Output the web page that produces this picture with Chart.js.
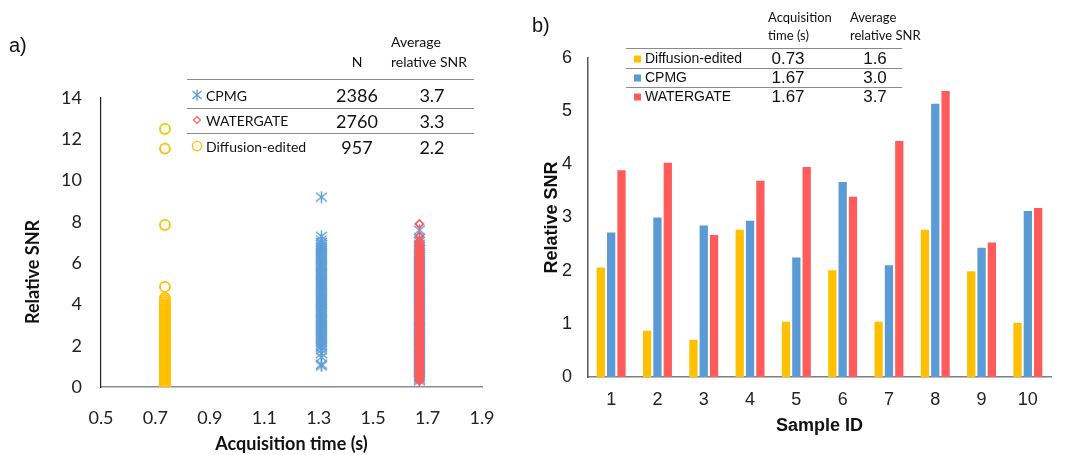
<!DOCTYPE html>
<html>
<head>
<meta charset="utf-8">
<script src="https://cdn.jsdelivr.net/npm/chart.js@4.4.1/dist/chart.umd.min.js"></script>
<style>
  html, body { margin: 0; padding: 0; background: #fff; }
  #wrap { position: relative; width: 1066px; height: 455px; overflow: hidden; }
  canvas { position: absolute; top: 0; }
  .t { position: absolute; white-space: nowrap; color: #111; }
  .c { transform: translate(-50%, -50%); }
  .l { transform: translate(0, -50%); }
  .hl { position: absolute; height: 0; border-top: 1.5px solid #8a8a8a; }
  .lato { font-family: Lato, "Open Sans", sans-serif; }
  .arial { font-family: "Liberation Sans", Arial, sans-serif; }
  .sw { position: absolute; width: 7px; height: 7px; transform: translate(0, -50%); }
</style>
</head>
<body>
<div id="wrap">
  <canvas id="left" width="500" height="455" style="left:0"></canvas>
  <canvas id="right" width="546" height="455" style="left:520px"></canvas>

  <!-- panel a labels / table -->
  <div class="t arial l" style="left:9px;top:45px;font-size:20px;">a)</div>
  <div class="t lato c" style="left:32px;top:272px;font-size:18px;font-weight:bold;transform:translate(-50%,-50%) rotate(-90deg);">Relative SNR</div>

  <div class="t lato c" style="left:357px;top:61px;font-size:14px;">N</div>
  <div class="t lato l" style="left:391px;top:41px;font-size:14px;">Average</div>
  <div class="t lato l" style="left:391px;top:61px;font-size:14px;">relative SNR</div>
  <div class="hl" style="left:187px;width:287px;top:79px;"></div>
  <div class="hl" style="left:187px;width:287px;top:108px;"></div>
  <div class="hl" style="left:187px;width:287px;top:133px;"></div>
  <svg style="position:absolute;left:191px;top:89px" width="12" height="12"><g stroke="#5B9BD5" stroke-width="1.3"><line x1="6" y1="0.5" x2="6" y2="11.5"/><line x1="1.5" y1="2" x2="10.5" y2="10"/><line x1="10.5" y1="2" x2="1.5" y2="10"/></g></svg>
  <svg style="position:absolute;left:192px;top:115px" width="10" height="10"><polygon points="5,1.5 8.5,5 5,8.5 1.5,5" fill="none" stroke="#FF5B5B" stroke-width="1.2"/></svg>
  <svg style="position:absolute;left:191px;top:140px" width="12" height="12"><circle cx="6" cy="6" r="4.6" fill="none" stroke="#FFC000" stroke-width="1.4"/></svg>
  <div class="t lato l" style="left:206px;top:95px;font-size:14px;">CPMG</div>
  <div class="t lato l" style="left:206px;top:120px;font-size:14px;">WATERGATE</div>
  <div class="t lato l" style="left:206px;top:146px;font-size:14px;">Diffusion-edited</div>
  <div class="t lato c" style="left:357px;top:95px;font-size:18px;">2386</div>
  <div class="t lato c" style="left:357px;top:121px;font-size:18px;">2760</div>
  <div class="t lato c" style="left:357px;top:147px;font-size:18px;">957</div>
  <div class="t lato c" style="left:432px;top:95px;font-size:18px;">3.7</div>
  <div class="t lato c" style="left:432px;top:121px;font-size:18px;">3.3</div>
  <div class="t lato c" style="left:432px;top:147px;font-size:18px;">2.2</div>

  <!-- panel b labels / table -->
  <div class="t arial l" style="left:532px;top:25px;font-size:20px;">b)</div>
  <div class="t lato l" style="left:768px;top:17px;font-size:13px;">Acquisition</div>
  <div class="t lato l" style="left:768px;top:35px;font-size:13px;">time (s)</div>
  <div class="t lato l" style="left:850px;top:17px;font-size:13px;">Average</div>
  <div class="t lato l" style="left:850px;top:35px;font-size:13px;">relative SNR</div>
  <div class="hl" style="left:626px;width:276px;top:48px;"></div>
  <div class="hl" style="left:626px;width:276px;top:68px;"></div>
  <div class="hl" style="left:626px;width:276px;top:87px;"></div>
  <div class="sw" style="left:634px;top:59px;background:#FFC000;"></div>
  <div class="sw" style="left:634px;top:78px;background:#5B9BD5;"></div>
  <div class="sw" style="left:634px;top:97px;background:#FF5B5B;"></div>
  <div class="t arial l" style="left:645px;top:58px;font-size:14px;">Diffusion-edited</div>
  <div class="t arial l" style="left:645px;top:77px;font-size:14px;">CPMG</div>
  <div class="t arial l" style="left:645px;top:96px;font-size:14px;">WATERGATE</div>
  <div class="t arial c" style="left:788px;top:59px;font-size:17px;">0.73</div>
  <div class="t arial c" style="left:788px;top:78px;font-size:17px;">1.67</div>
  <div class="t arial c" style="left:788px;top:97px;font-size:17px;">1.67</div>
  <div class="t arial c" style="left:875px;top:59px;font-size:17px;">1.6</div>
  <div class="t arial c" style="left:875px;top:78px;font-size:17px;">3.0</div>
  <div class="t arial c" style="left:875px;top:97px;font-size:17px;">3.7</div>
</div>

<script>
// ---------------- Panel a data ----------------
const diffusionTime = 0.735;
const cpmgTimeA = 1.31;
const cpmgTimeB = 1.67;
const watergateTime = 1.67;

const diffusionSnrPoints = [0.0,0.05,0.12,0.2,0.27,0.35,0.41,0.5,0.57,0.64,0.72,0.8,0.87,0.95,1.02,1.1,1.17,1.25,1.33,1.4,1.48,1.55,1.63,1.7,1.78,1.86,1.93,2.0,2.08,2.16,2.23,2.3,2.38,2.46,2.53,2.6,2.68,2.76,2.83,2.9,2.98,3.06,3.13,3.2,3.28,3.36,3.43,3.5,3.58,3.66,3.73,3.8,3.88,3.95,4.03,4.12,4.22,4.32,4.85,7.85,11.55,12.5];

const cpmgSnrPointsA = [1.02,1.1,1.45,1.62,1.8,1.92,2.0,2.09,2.18,2.27,2.36,2.44,2.53,2.62,2.7,2.79,2.88,2.97,3.05,3.14,3.23,3.31,3.4,3.49,3.58,3.66,3.75,3.84,3.93,4.01,4.1,4.19,4.27,4.36,4.45,4.54,4.62,4.71,4.8,4.88,4.97,5.06,5.15,5.23,5.32,5.41,5.5,5.58,5.67,5.76,5.84,5.93,6.02,6.11,6.19,6.28,6.37,6.46,6.55,6.64,6.72,6.81,6.9,7.0,7.12,7.3,9.2];

const cpmgSnrPointsB = [0.3,0.38,0.47,0.56,0.64,0.73,0.82,0.9,0.99,1.08,1.17,1.25,1.34,1.43,1.52,1.6,1.69,1.78,1.87,1.95,2.04,2.13,2.22,2.3,2.39,2.48,2.57,2.65,2.74,2.83,2.92,3.0,3.09,3.18,3.27,3.35,3.44,3.53,3.62,3.7,3.79,3.88,3.97,4.05,4.14,4.23,4.32,4.4,4.49,4.58,4.67,4.75,4.84,4.93,5.02,5.1,5.19,5.28,5.37,5.45,5.54,5.63,5.72,5.8,5.89,5.98,6.07,6.15,6.24,6.33,6.42,6.5,6.6,6.7,6.8,6.92,7.05,7.2,7.6];

const watergateSnrPoints = [0.3,0.39,0.48,0.57,0.66,0.75,0.84,0.93,1.02,1.11,1.2,1.29,1.38,1.47,1.56,1.65,1.74,1.83,1.92,2.01,2.1,2.19,2.28,2.37,2.46,2.55,2.64,2.73,2.82,2.91,3.0,3.09,3.18,3.27,3.36,3.45,3.54,3.63,3.72,3.81,3.9,3.99,4.08,4.17,4.26,4.35,4.44,4.53,4.62,4.71,4.8,4.89,4.98,5.07,5.16,5.25,5.34,5.43,5.52,5.61,5.7,5.79,5.88,5.97,6.06,6.15,6.24,6.33,6.42,6.51,6.6,6.7,6.8,6.92,7.05,7.3,7.9];

// ---------------- Panel b data ----------------
const sampleIds = ['1','2','3','4','5','6','7','8','9','10'];
const diffusionSnr = [2.06,0.87,0.70,2.77,1.04,2.01,1.04,2.77,1.99,1.02];
const cpmgSnr      = [2.72,3.00,2.85,2.94,2.25,3.67,2.10,5.14,2.43,3.12];
const watergateSnr = [3.89,4.03,2.67,3.69,3.95,3.39,4.44,5.38,2.53,3.18];

const YELLOW = '#FFC000', BLUE = '#5B9BD5', RED = '#FF5B5B';

// asterisk marker (vertical + X) for CPMG
function makeAsterisk() {
  const c = document.createElement('canvas');
  c.width = 13; c.height = 13;
  const g = c.getContext('2d');
  g.strokeStyle = BLUE; g.lineWidth = 1.4;
  g.beginPath();
  g.moveTo(6.5, 0.5); g.lineTo(6.5, 12.5);
  g.moveTo(1, 2); g.lineTo(12, 11);
  g.moveTo(12, 2); g.lineTo(1, 11);
  g.stroke();
  return c;
}
const asterisk = makeAsterisk();

const toPts = (t, arr) => arr.map(v => ({x: t, y: v}));

new Chart(document.getElementById('left'), {
  type: 'scatter',
  data: {
    datasets: [
      { label: 'WATERGATE', data: toPts(watergateTime, watergateSnrPoints),
        pointStyle: 'rectRot', pointRadius: 4, borderColor: RED, backgroundColor: 'rgba(0,0,0,0)', borderWidth: 1.8 },
      { label: 'CPMG', data: toPts(cpmgTimeA, cpmgSnrPointsA),
        pointStyle: asterisk, pointRadius: 6, borderColor: BLUE, backgroundColor: BLUE },
      { label: 'CPMG', data: toPts(cpmgTimeB, cpmgSnrPointsB),
        pointStyle: asterisk, pointRadius: 6, borderColor: BLUE, backgroundColor: BLUE },
      { label: 'Diffusion-edited', data: toPts(diffusionTime, diffusionSnrPoints),
        pointStyle: 'circle', pointRadius: 5, borderColor: YELLOW, backgroundColor: 'rgba(0,0,0,0)', borderWidth: 1.8 }
    ]
  },
  options: {
    responsive: false, animation: false, events: [],
    layout: { padding: { left: 0, top: 98, right: 18, bottom: 0 } },
    plugins: { legend: { display: false }, tooltip: { enabled: false } },
    scales: {
      x: {
        type: 'linear', min: 0.5, max: 1.9,
        grid: { display: false, drawTicks: false },
        border: { color: '#8c8c8c', width: 1.5 },
        ticks: { stepSize: 0.2, padding: 20, color: '#222', font: { family: 'Lato', size: 18 },
                 callback: v => Number(v).toFixed(1) },
        title: { display: true, text: 'Acquisition time (s)', color: '#111',
                 font: { family: 'Lato', size: 18, weight: 'bold' }, padding: { top: 0, bottom: 0 } },
        afterFit: s => { s.height = 68; s.paddingRight = 0; s.paddingLeft = 0; }
      },
      y: {
        min: 0, max: 14,
        grid: { display: false, drawTicks: false },
        border: { color: '#222', width: 1.2 },
        ticks: { stepSize: 2, padding: 19, color: '#222', font: { family: 'Lato', size: 18 } },
        afterFit: s => { s.width = 101; s.paddingTop = 0; s.paddingBottom = 0; }
      }
    }
  }
});

new Chart(document.getElementById('right'), {
  type: 'bar',
  data: {
    labels: sampleIds,
    datasets: [
      { label: 'Diffusion-edited', data: diffusionSnr, backgroundColor: YELLOW },
      { label: 'CPMG', data: cpmgSnr, backgroundColor: BLUE },
      { label: 'WATERGATE', data: watergateSnr, backgroundColor: RED }
    ]
  },
  options: {
    responsive: false, animation: false, events: [],
    datasets: { bar: { categoryPercentage: 0.67, barPercentage: 0.8 } },
    layout: { padding: { left: 0, top: 58, right: 15, bottom: 0 } },
    plugins: { legend: { display: false }, tooltip: { enabled: false } },
    scales: {
      x: {
        grid: { display: false, drawTicks: false },
        border: { color: '#7f7f7f', width: 1.5 },
        ticks: { padding: 12, color: '#222', font: { family: 'Liberation Sans', size: 18 } },
        title: { display: true, text: 'Sample ID', color: '#111',
                 font: { family: 'Liberation Sans', size: 18, weight: 'bold' }, padding: { top: 0, bottom: 18 } },
        afterFit: s => { s.height = 78; s.paddingRight = 0; s.paddingLeft = 0; }
      },
      y: {
        min: 0, max: 6,
        grid: { display: false, drawTicks: false },
        border: { color: '#595959', width: 1.5 },
        ticks: { stepSize: 1, padding: 16, color: '#222', font: { family: 'Liberation Sans', size: 18 } },
        title: { display: true, text: 'Relative SNR', color: '#111',
                 font: { family: 'Liberation Sans', size: 18, weight: 'bold' }, padding: { top: 21, bottom: 0 } },
        afterFit: s => { s.width = 68; s.paddingTop = 0; s.paddingBottom = 0; }
      }
    }
  }
});
</script>
</body>
</html>
